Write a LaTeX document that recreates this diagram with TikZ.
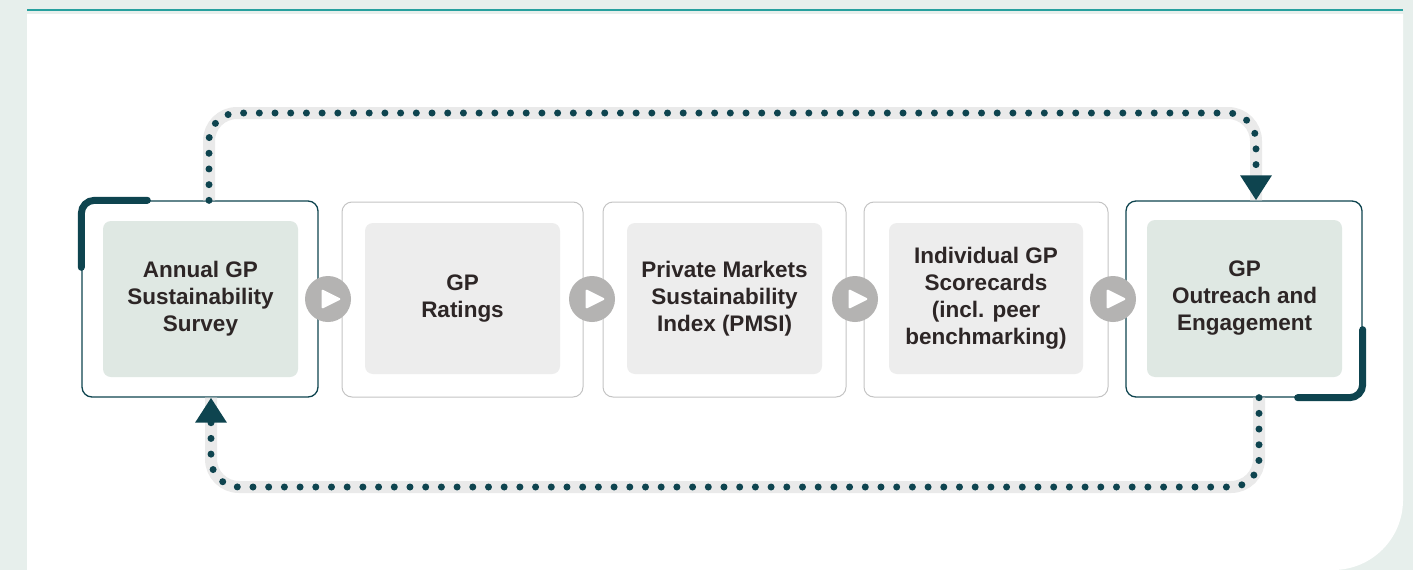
\documentclass[tikz,border=0pt]{standalone}
\usepackage{fontspec}
\setmainfont{Liberation Sans}
\definecolor{deepteal}{RGB}{14, 68, 79}
\definecolor{sagefill}{RGB}{223, 232, 227}
\definecolor{cardgray}{RGB}{237, 237, 237}
\definecolor{edgegray}{RGB}{196, 196, 196}
\definecolor{btngray}{RGB}{180, 179, 178}
\definecolor{mintbg}{RGB}{231, 239, 236}
\definecolor{rulecyan}{RGB}{38, 160, 158}
\definecolor{bandgray}{RGB}{234, 234, 234}
\definecolor{inkdark}{RGB}{45, 38, 38}
\usetikzlibrary{arrows.meta, positioning, calc}

\tikzset{
  outerteal/.style={draw=deepteal, line width=1.3pt, fill=white, rounded corners=10pt, inner sep=0pt},
  outergray/.style={draw=edgegray, line width=1pt, fill=white, rounded corners=10pt, inner sep=0pt},
  innercard/.style={rounded corners=8pt, inner sep=0pt, text=inkdark, align=center,
    font=\fontsize{22.5}{27}\selectfont\bfseries},
  accentbar/.style={draw=deepteal, line width=7pt, line cap=round, rounded corners=13pt},
  playbtn/.style={circle, fill=btngray, minimum size=46pt, inner sep=0pt,
    path picture={\fill[white, rounded corners=1.5pt]
      ([xshift=-6.5pt, yshift=10pt]path picture bounding box.center) -- ++(20pt,-10pt)
      -- ++(-20pt,-10pt) -- cycle;}},
  loopdots/.style={draw=deepteal, line width=7pt, line cap=round,
    dash pattern=on 0pt off 15.7pt, rounded corners=28pt,
    -{Triangle[width=30pt, length=25pt, line cap=butt]},
    preaction={draw=bandgray, line width=12pt, solid, line cap=butt, -}}
}

\begin{document}
\begin{tikzpicture}[x=1pt, y=-1pt]
  % page background and white panel
  \fill[mintbg] (0,0) rectangle (1413,570);
  \fill[white] (27,14) -- (1403,14) -- (1403,500) arc[start angle=0, end angle=90, radius=70] -- (27,570) -- cycle;
  \draw[rulecyan, line width=2pt] (27,10) -- (1403,10);

  % step boxes
  \node[outerteal, minimum width=236pt, minimum height=196pt] (survey) at (200, 299) {};
  \node[outergray, minimum width=241pt, minimum height=195pt] (ratings) at (462.5, 299.5) {};
  \node[outergray, minimum width=243pt, minimum height=195pt] (pmsi) at (724.5, 299.5) {};
  \node[outergray, minimum width=244pt, minimum height=195pt] (scorecards) at (986, 299.5) {};
  \node[outerteal, minimum width=236pt, minimum height=196pt] (outreach) at (1244, 299) {};

  % inner cards with labels
  \node[innercard, fill=sagefill, minimum width=195pt, minimum height=156pt] (surveytxt) at (200.5, 299) {Annual GP\\Sustainability\\Survey};
  \node[innercard, fill=cardgray, minimum width=195pt, minimum height=151pt] (ratingstxt) at (462.5, 298.5) {GP\\Ratings};
  \node[innercard, fill=cardgray, minimum width=195pt, minimum height=151pt] (pmsitxt) at (724.5, 298.5) {Private Markets\\Sustainability\\Index (PMSI)};
  \node[innercard, fill=cardgray, minimum width=194pt, minimum height=151pt] (scorecardstxt) at (986, 298.5) {Individual GP\\Scorecards\\(incl. peer\\benchmarking)};
  \node[innercard, fill=sagefill, minimum width=195pt, minimum height=157pt] (outreachtxt) at (1244.5, 298.5) {GP\\Outreach and\\Engagement};

  % corner accents
  \draw[accentbar] ([yshift=-67pt]survey.north west) |- ([xshift=66pt]survey.north west);
  \draw[accentbar] ([yshift=68pt]outreach.south east) |- ([xshift=-65pt]outreach.south east);

  % play buttons between steps
  \node[playbtn] (play1) at (328, 299) {};
  \node[playbtn] (play2) at (592, 299) {};
  \node[playbtn] (play3) at (855, 299) {};
  \node[playbtn] (play4) at (1113, 299) {};

  % feedback loop
  \coordinate (toprail) at (0, 113);
  \coordinate (botrail) at (0, 487);
  \coordinate (upstart) at ([xshift=9pt]survey.north);
  \coordinate (upend) at ([xshift=12pt]outreach.north);
  \coordinate (downstart) at ([xshift=15pt]outreach.south);
  \coordinate (downend) at ([xshift=11pt]survey.south);
  \draw[loopdots] (upstart) -- (upstart |- toprail) -- (upend |- toprail) -- (upend);
  \draw[loopdots] (downstart) -- (downstart |- botrail) -- (downend |- botrail) -- (downend);
\end{tikzpicture}
\end{document}
